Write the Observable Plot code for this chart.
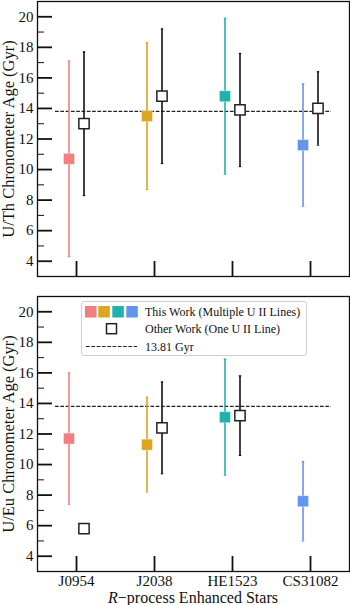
<!DOCTYPE html>
<html><head><meta charset="utf-8">
<script src="https://cdn.jsdelivr.net/npm/d3@7"></script>
<script src="https://cdn.jsdelivr.net/npm/@observablehq/plot@0.6"></script>
<style>
body{margin:0;background:#fff;}
#wrap{position:relative;width:350px;height:605px;font-family:"Liberation Serif",serif;color:#111;overflow:hidden;}
#top,#bot{position:absolute;left:0;}
#top{top:0}
#bot{top:290px}
#xtitle{position:absolute;left:37px;width:312px;top:591px;text-align:center;font-size:16px;line-height:13px;}
#legend{position:absolute;left:81px;top:301px;width:224px;height:53px;border:1px solid #d0d0d0;border-radius:3px;background:rgba(255,255,255,0.85);font-size:12px;}
#legend svg{position:absolute;left:0;top:0;}
.lt{position:absolute;left:63px;white-space:nowrap;line-height:14px;}
svg text{font-family:"Liberation Serif",serif;}
</style></head>
<body><div id="wrap">
<div id="top"></div>
<div id="bot"></div>
<div id="legend">
<svg width="224" height="53">
  <rect x="3" y="4" width="11.5" height="11.5" fill="#F08080"/>
  <rect x="16.3" y="4" width="11.5" height="11.5" fill="#DAA520"/>
  <rect x="30.3" y="4" width="11.5" height="11.5" fill="#20B2AA"/>
  <rect x="44.3" y="4" width="11.5" height="11.5" fill="#6495ED"/>
  <rect x="24.5" y="21.7" width="10" height="10" fill="#fff" stroke="#222" stroke-width="1.5"/>
  <line x1="4" x2="55" y1="44.5" y2="44.5" stroke="#222" stroke-width="1.1" stroke-dasharray="3.7,1.6"/>
</svg>
<div class="lt" style="top:2.5px">This Work (Multiple U II Lines)</div>
<div class="lt" style="top:20px">Other Work (One U II Line)</div>
<div class="lt" style="top:37.5px">13.81 Gyr</div>
</div>
<div id="xtitle"><i>R</i>−process Enhanced Stars</div>
</div>
<script>
const stars = ["J0954", "J2038", "HE1523", "CS31082"];
const colors = ["#F08080", "#DAA520", "#20B2AA", "#6495ED"];
const universeAge = 13.81;

// U/Th chronometer ages (Gyr)
const thThisAge = [10.7, 13.5, 14.8, 11.6];
const thThisErr = [6.4, 4.8, 5.1, 4.0];
const thOtherAge = [13.0, 14.8, 13.9, 14.0];
const thOtherErr = [4.7, 4.4, 3.7, 2.4];

// U/Eu chronometer ages (Gyr)
const euThisAge = [11.7, 11.3, 13.1, 7.6];
const euThisErr = [4.3, 3.1, 3.8, 2.6];
const euOtherAge = [5.8, 12.4, 13.2, null];
const euOtherErr = [null, 3.0, 2.6, null];

const yMajor = [4, 6, 8, 10, 12, 14, 16, 18, 20];
const yMinor = [5, 7, 9, 11, 13, 15, 17, 19];

function rows(ages, errs) {
  return stars.map((s, i) => ({star: s, age: ages[i], err: errs[i], color: colors[i]}))
    .filter(d => d.age != null);
}

const cap = {
  draw(context, size) {
    const r = Math.sqrt(size / Math.PI);
    context.moveTo(-r, 0);
    context.lineTo(r, 0);
  }
};

const font = "Liberation Serif";

function panel(thisAge, thisErr, otherAge, otherErr, ylabel, showX, height, mt, mb) {
  const tw = rows(thisAge, thisErr);
  const ow = rows(otherAge, otherErr);
  const owE = ow.filter(d => d.err != null);
  const off = 7.5;
  return Plot.plot({
    width: 350, height,
    marginLeft: 37, marginRight: 1, marginTop: mt, marginBottom: mb,
    style: {fontFamily: font, fontSize: "15px", color: "#111", background: "transparent", overflow: "visible"},
    x: {type: "point", domain: stars, padding: 0.5},
    y: {domain: [3, 21]},
    color: {type: "identity"},
    marks: [
      Plot.ruleY([universeAge], {stroke: "#222", strokeWidth: 1.2, strokeDasharray: "3.7,1.6", insetLeft: 18, insetRight: 18}),
      Plot.ruleX(tw, {x: "star", y1: d => d.age - d.err, y2: d => d.age + d.err, stroke: "color", strokeWidth: 1.6, dx: -off}),
      Plot.dot(tw, {x: "star", y: d => d.age + d.err, symbol: cap, r: 1.3, stroke: "color", strokeWidth: 1.2, dx: -off}),
      Plot.dot(tw, {x: "star", y: d => d.age - d.err, symbol: cap, r: 1.3, stroke: "color", strokeWidth: 1.2, dx: -off}),
      Plot.dot(tw, {x: "star", y: "age", symbol: "square", r: 6.2, fill: "color", stroke: "#fff", strokeOpacity: 0.35, strokeWidth: 1, dx: -off}),
      Plot.ruleX(owE, {x: "star", y1: d => d.age - d.err, y2: d => d.age + d.err, stroke: "#111", strokeWidth: 1.6, dx: off}),
      Plot.dot(owE, {x: "star", y: d => d.age + d.err, symbol: cap, r: 1.2, stroke: "#111", strokeWidth: 1.2, dx: off}),
      Plot.dot(owE, {x: "star", y: d => d.age - d.err, symbol: cap, r: 1.2, stroke: "#111", strokeWidth: 1.2, dx: off}),
      Plot.dot(ow, {x: "star", y: "age", symbol: "square", r: 5.8, fill: "#fff", stroke: "#222", strokeWidth: 1.5, dx: off}),
      Plot.frame({stroke: "#111", strokeWidth: 1.3}),
      Plot.axisY({ticks: yMinor, tickSize: -7, tickFormat: () => "", strokeWidth: 1, label: null}),
      Plot.axisY({ticks: yMajor, tickSize: -15, tickPadding: 19, strokeWidth: 1.8, fontFamily: font, fontSize: 15, label: null}),
      Plot.axisY({ticks: [], tickSize: 0, fontFamily: font, fontSize: 16.5, label: ylabel, labelAnchor: "center", labelOffset: 35, labelArrow: "none"}),
      Plot.axisX({tickSize: -15, tickPadding: 19, strokeWidth: 1.8, fontFamily: font, fontSize: 15, tickFormat: showX ? (d => d) : (() => ""), label: null})
    ]
  });
}

document.getElementById("top").append(
  panel(thThisAge, thThisErr, thOtherAge, thOtherErr, "U/Th Chronometer Age (Gyr)", false, 290, 1, 14));
document.getElementById("bot").append(
  panel(euThisAge, euThisErr, euOtherAge, euOtherErr, "U/Eu Chronometer Age (Gyr)", true, 300, 6, 19));
</script>
</body></html>
